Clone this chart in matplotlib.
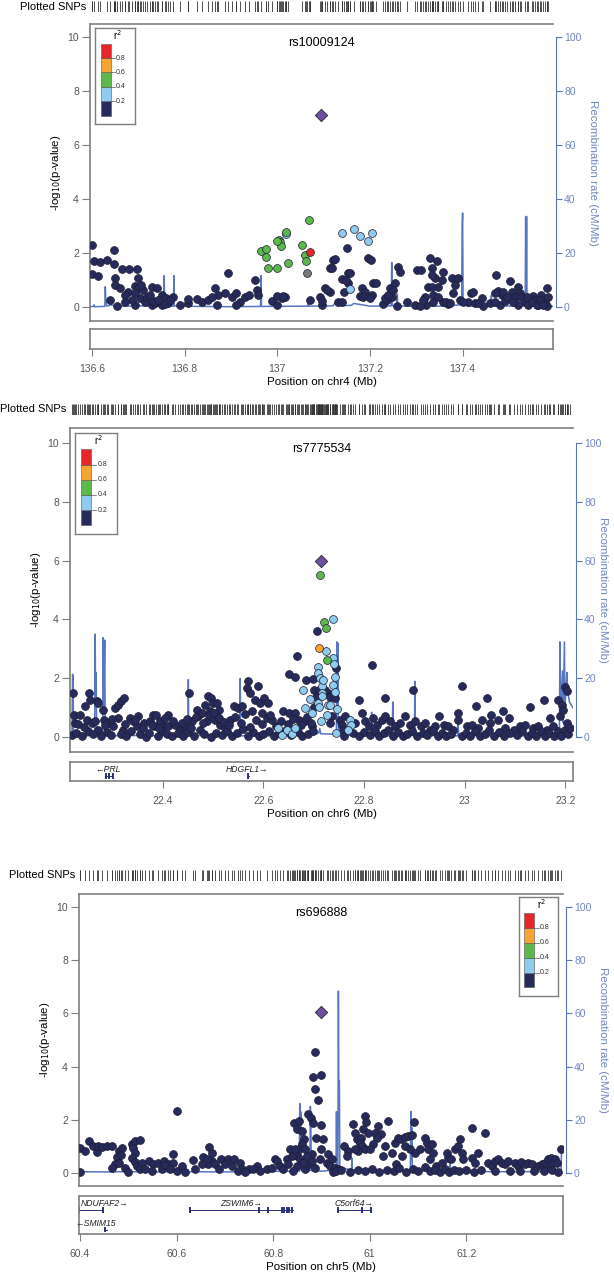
import numpy as np
import matplotlib
matplotlib.use('Agg')
import matplotlib.pyplot as plt
from matplotlib.patches import Rectangle
from matplotlib.ticker import FuncFormatter

plt.rcParams['font.family'] = ['Liberation Sans', 'DejaVu Sans']

# ---------------- data ----------------
ld_labels = ['0.2', '0.4', '0.6', '0.8']

# panel 1 : rs10009124, chr4
p1_navy = [
    (136.600, 2.31), (136.605, 1.72), (136.617, 1.69), (136.632, 1.75), (136.648, 2.12), (136.648, 1.60),
    (136.600, 1.23), (136.613, 1.18), (136.651, 1.10), (136.666, 1.41), (136.680, 1.41), (136.697, 1.41),
    (136.700, 1.08), (136.650, 0.83), (136.661, 0.71), (136.679, 0.59), (136.693, 0.80), (136.700, 0.71),
    (136.711, 0.65), (136.729, 0.77), (136.740, 0.71), (136.751, 0.47), (136.761, 0.34), (136.776, 0.40),
    (136.790, 0.10), (136.654, 0.04), (136.639, 0.28), (136.693, 0.10), (136.704, 0.34), (136.715, 0.22),
    (136.729, 0.10), (136.736, 0.16), (136.751, 0.10), (136.765, 0.16), (136.808, 0.16), (136.826, 0.32),
    (136.837, 0.22), (136.851, 0.28), (136.866, 0.71), (136.873, 0.47), (136.887, 0.53), (136.902, 0.40),
    (136.912, 0.53), (136.920, 0.22), (136.894, 1.26), (136.952, 1.02), (136.956, 0.65), (136.959, 0.47),
    (136.988, 0.25), (136.999, 0.10), (137.010, 0.34), (137.017, 0.40), (137.071, 0.28), (137.096, 0.10),
    (137.092, 0.40), (137.103, 0.71), (137.114, 0.59), (137.114, 1.45), (137.121, 1.75), (137.132, 0.20),
    (137.139, 1.06), (137.153, 1.26), (137.150, 2.21), (137.143, 0.59), (137.178, 0.44), (137.182, 0.71),
    (137.189, 0.59), (137.196, 1.82), (137.202, 1.75), (137.207, 0.90), (137.204, 0.47), (137.229, 0.12),
    (137.236, 0.28), (137.243, 0.71), (137.247, 0.40), (137.254, 0.90), (137.261, 1.51), (137.265, 1.33),
    (137.258, 0.04), (137.279, 0.22), (137.297, 0.10), (137.301, 1.39), (137.311, 1.39), (137.329, 1.84),
    (137.344, 1.72), (137.333, 1.45), (137.340, 1.08), (137.326, 0.77), (137.347, 0.77), (137.358, 1.33),
    (137.333, 1.20), (137.355, 1.02), (137.319, 0.40), (137.322, 0.10), (137.337, 0.22), (137.358, 0.20),
    (137.369, 0.12), (137.376, 1.08), (137.383, 0.83), (137.391, 1.08), (137.380, 0.53), (137.394, 0.28),
    (137.412, 0.22), (137.419, 0.53), (137.423, 0.59), (137.441, 0.34), (137.444, 0.04), (137.426, 0.16),
    (137.459, 0.16), (137.473, 1.20), (137.477, 0.61), (137.484, 0.47), (137.480, 0.10), (137.491, 0.25),
    (137.502, 0.98), (137.506, 0.59), (137.513, 0.40), (137.520, 0.77), (137.524, 0.53), (137.520, 0.10),
    (137.534, 0.22), (137.541, 0.10), (137.552, 0.44), (137.556, 0.28), (137.563, 0.10), (137.570, 0.47),
    (137.577, 0.22), (137.581, 0.71), (137.583, 0.04), (136.671, 0.47), (136.686, 0.28), (136.718, 0.40),
    (136.733, 0.25), (136.743, 0.28), (136.758, 0.12), (136.769, 0.28), (136.693, 0.53), (136.726, 0.47),
    (136.707, 0.83), (136.671, 0.22), (136.808, 0.32), (136.859, 0.40), (136.869, 0.10), (136.912, 0.10),
    (136.930, 0.40), (136.938, 0.47), (136.999, 0.44), (137.013, 0.44), (137.096, 0.25), (137.107, 0.65),
    (137.139, 0.22), (137.153, 0.90), (137.186, 0.40), (137.200, 0.37), (137.232, 0.34), (137.240, 0.47),
    (137.250, 0.65), (137.308, 0.04), (137.315, 0.28), (137.333, 0.77), (137.337, 0.47), (137.347, 0.40),
    (137.365, 0.22), (137.373, 0.16), (137.401, 0.22), (137.434, 0.16), (137.470, 0.53), (137.470, 0.22),
    (137.488, 0.59), (137.495, 0.40), (137.509, 0.22), (137.527, 0.40), (137.538, 0.40), (137.549, 0.22),
    (137.560, 0.10), (137.567, 0.28), (137.574, 0.10), (137.585, 0.40), (137.124, 1.78), (137.118, 1.45),
    (137.158, 1.26), (137.148, 1.02), (137.213, 0.90),
]
p1_gray = [(137.064, 1.29)]
p1_lblue = [(137.019, 2.71), (137.139, 2.77), (137.166, 2.92), (137.179, 2.64), (137.196, 2.45),
            (137.205, 2.77), (137.156, 0.67)]
p1_green = [(136.965, 2.10), (136.975, 2.18), (136.975, 1.88), (136.980, 1.45), (136.999, 1.48),
            (137.003, 2.49), (137.007, 2.43), (137.009, 2.27), (137.018, 2.80), (137.024, 1.63),
            (137.053, 2.33), (137.060, 1.96), (137.063, 1.72), (137.068, 3.23), (137.000, 2.45)]
p1_orange = []
p1_red = [(137.071, 2.05)]
p1_index = (137.094, 7.13)
p1_recomb = [
    (136.596, 0.3), (136.604, 0.4), (136.605, 1.0), (136.606, 0.3), (136.628, 0.4), (136.629, 7.7),
    (136.630, 3.0), (136.632, 0.5), (136.640, 1.0), (136.648, 0.8), (136.660, 1.2), (136.665, 0.5),
    (136.700, 0.6), (136.755, 0.5), (136.756, 11.8), (136.757, 0.6), (136.776, 0.5), (136.777, 11.8),
    (136.778, 0.6), (136.830, 0.4), (136.900, 0.3), (136.964, 0.4), (136.965, 11.8), (136.966, 0.4),
    (137.066, 0.5), (137.067, 2.5), (137.068, 0.5), (137.120, 0.6), (137.125, 1.8), (137.130, 0.6),
    (137.160, 0.8), (137.165, 1.5), (137.200, 0.5), (137.246, 0.6), (137.247, 16.7), (137.248, 0.7),
    (137.258, 0.6), (137.259, 5.0), (137.260, 0.6), (137.300, 0.4), (137.350, 0.5), (137.398, 1.0),
    (137.399, 30.0), (137.400, 35.0), (137.401, 2.0), (137.405, 1.5), (137.410, 0.5), (137.461, 0.5),
    (137.462, 4.5), (137.463, 0.5), (137.535, 0.6), (137.536, 33.7), (137.537, 5.0), (137.538, 33.7),
    (137.539, 0.6), (137.595, 0.4),
]

# panel 2 : rs7775534, chr6
p2_navy = [
    (22.221, 1.49), (22.223, 0.77), (22.226, 0.49), (22.219, 0.09), (22.236, 0.77), (22.246, 1.06),
    (22.253, 1.51), (22.256, 1.28), (22.249, 0.60), (22.259, 0.49), (22.269, 1.23), (22.272, 1.17),
    (22.282, 0.92), (22.284, 0.60), (22.272, 0.26), (22.292, 0.49), (22.306, 1.00), (22.311, 1.11),
    (22.317, 1.23), (22.324, 1.34), (22.312, 0.66), (22.302, 0.37), (22.322, 0.26), (22.335, 0.66),
    (22.342, 0.55), (22.352, 0.72), (22.349, 0.37), (22.362, 0.49), (22.375, 0.55), (22.380, 0.77),
    (22.386, 0.77), (22.382, 0.37), (22.395, 0.55), (22.402, 0.37), (22.411, 0.74), (22.411, 0.37),
    (22.425, 0.43), (22.435, 0.26), (22.445, 0.37), (22.452, 1.51), (22.458, 0.55), (22.468, 0.94),
    (22.471, 0.72), (22.478, 0.83), (22.484, 1.11), (22.490, 1.40), (22.497, 1.34), (22.501, 1.17),
    (22.507, 1.17), (22.511, 0.94), (22.494, 0.89), (22.488, 0.55), (22.504, 0.60), (22.514, 0.43),
    (22.524, 0.32), (22.534, 0.60), (22.541, 1.06), (22.550, 1.00), (22.557, 1.06), (22.567, 1.68),
    (22.569, 1.91), (22.574, 1.51), (22.589, 1.74), (22.584, 1.28), (22.593, 1.17), (22.602, 1.34),
    (22.610, 1.17), (22.577, 0.89), (22.597, 0.83), (22.607, 0.66), (22.617, 0.60), (22.640, 0.89),
    (22.650, 0.83), (22.663, 0.83), (22.670, 0.60), (22.683, 0.55), (22.696, 0.37), (22.666, 2.76),
    (22.651, 2.14), (22.662, 2.06), (22.684, 1.94), (22.699, 1.99), (22.701, 1.60), (22.704, 1.37),
    (22.701, 1.03), (22.706, 3.61),
    (22.228, 0.15), (22.240, 0.05), (22.252, 0.20), (22.262, 0.10), (22.278, 0.03), (22.290, 0.18),
    (22.298, 0.08), (22.318, 0.12), (22.328, 0.04), (22.338, 0.22), (22.356, 0.10), (22.366, 0.02),
    (22.372, 0.16), (22.390, 0.06), (22.398, 0.20), (22.408, 0.12), (22.418, 0.03), (22.430, 0.14),
    (22.440, 0.06), (22.450, 0.18), (22.462, 0.04), (22.474, 0.25), (22.482, 0.10), (22.496, 0.02),
    (22.506, 0.16), (22.518, 0.08), (22.528, 0.20), (22.538, 0.05), (22.548, 0.14), (22.560, 0.28),
    (22.570, 0.06), (22.580, 0.18), (22.592, 0.03), (22.600, 0.12), (22.612, 0.22), (22.622, 0.05),
    (22.632, 0.15), (22.645, 0.25), (22.655, 0.08), (22.668, 0.18), (22.676, 0.04), (22.688, 0.12),
    (22.698, 0.22),
    (22.232, 0.45), (22.244, 0.35), (22.266, 0.55), (22.286, 0.40), (22.300, 0.62), (22.326, 0.45),
    (22.346, 0.58), (22.360, 0.30), (22.378, 0.42), (22.392, 0.32), (22.405, 0.65), (22.420, 0.55),
    (22.438, 0.48), (22.448, 0.62), (22.456, 0.30), (22.466, 0.70), (22.480, 0.50), (22.492, 0.75),
    (22.502, 0.82), (22.512, 0.66), (22.522, 0.52), (22.532, 0.40), (22.544, 0.70), (22.556, 0.48),
    (22.564, 0.78), (22.574, 0.35), (22.586, 0.60), (22.598, 0.45), (22.614, 0.75), (22.626, 0.38),
    (22.636, 0.55), (22.648, 0.45), (22.658, 0.62), (22.674, 0.40), (22.686, 0.70), (22.694, 0.50),
    (22.744, 2.36), (22.711, 1.62), (22.729, 1.51), (22.733, 1.37), (22.722, 1.62), (22.742, 1.34),
    (22.736, 0.72), (22.752, 0.60), (22.762, 0.72), (22.756, 0.43), (22.733, 0.49), (22.759, 0.26),
    (22.782, 0.49), (22.795, 0.81), (22.789, 1.25), (22.802, 0.55), (22.809, 0.37), (22.816, 2.45),
    (22.818, 0.66), (22.825, 0.43), (22.835, 0.60), (22.842, 0.72), (22.842, 1.33), (22.852, 0.55),
    (22.862, 0.37), (22.871, 0.49), (22.881, 0.72), (22.891, 0.43), (22.897, 1.60), (22.901, 0.55),
    (22.913, 0.37), (22.921, 0.49), (22.931, 0.26), (22.941, 0.37), (22.949, 0.72), (22.958, 0.43),
    (22.967, 0.37), (22.977, 0.26), (22.987, 0.83), (22.987, 0.58), (22.994, 1.74), (23.004, 0.37),
    (23.014, 0.43), (23.022, 1.06), (23.027, 0.32), (23.034, 0.60), (23.044, 1.33), (23.050, 0.49),
    (23.053, 0.77), (23.067, 0.60), (23.075, 0.89), (23.080, 0.32), (23.087, 0.66), (23.097, 0.26),
    (23.110, 0.37), (23.120, 0.43), (23.130, 1.03), (23.136, 0.32), (23.146, 0.37), (23.158, 1.27),
    (23.163, 0.26), (23.170, 0.66), (23.176, 0.37), (23.185, 1.28), (23.189, 0.72), (23.193, 1.11),
    (23.196, 0.94), (23.199, 1.71), (23.203, 1.57), (23.200, 0.26), (23.204, 0.49),
    (22.760, 0.05), (22.778, 0.15), (22.790, 0.03), (22.800, 0.18), (22.812, 0.08), (22.822, 0.20),
    (22.830, 0.04), (22.840, 0.14), (22.848, 0.25), (22.858, 0.06), (22.868, 0.18), (22.878, 0.03),
    (22.886, 0.12), (22.896, 0.22), (22.906, 0.05), (22.918, 0.15), (22.926, 0.08), (22.936, 0.20),
    (22.946, 0.03), (22.954, 0.14), (22.962, 0.06), (22.972, 0.10), (22.994, 0.04), (23.002, 0.15),
    (23.010, 0.06), (23.020, 0.20), (23.030, 0.03), (23.040, 0.12), (23.048, 0.25), (23.058, 0.06),
    (23.068, 0.18), (23.078, 0.03), (23.090, 0.14), (23.104, 0.08), (23.114, 0.20), (23.126, 0.05),
    (23.134, 0.16), (23.142, 0.06), (23.152, 0.22), (23.160, 0.04), (23.168, 0.14), (23.178, 0.06),
    (23.186, 0.20), (23.192, 0.04), (23.206, 0.12), (23.210, 0.30),
]
p2_gray = []
p2_lblue = [
    (22.709, 2.40), (22.708, 2.17), (22.678, 1.60), (22.693, 1.31), (22.683, 1.00), (22.697, 0.83),
    (22.630, 0.32), (22.638, 0.09), (22.646, 0.26), (22.656, 0.12), (22.662, 0.32), (22.713, 2.02),
    (22.716, 1.74), (22.709, 1.17), (22.716, 1.49), (22.739, 4.01), (22.724, 2.93), (22.739, 2.70),
    (22.741, 2.48), (22.719, 1.94), (22.742, 2.06), (22.739, 1.76), (22.711, 1.02), (22.729, 1.08),
    (22.746, 0.97), (22.772, 0.60), (22.774, 0.43), (22.769, 0.26), (22.744, 0.15), (22.742, 1.53),
    (22.716, 1.40), (22.733, 1.11), (22.726, 0.77), (22.715, 0.55),
]
p2_green = [(22.712, 5.50), (22.721, 3.90), (22.724, 3.72), (22.726, 2.61)]
p2_orange = [(22.711, 3.04)]
p2_red = []
p2_index = (22.714, 6.00)
p2_recomb = [
    (22.216, 0.5), (22.220, 0.6), (22.221, 21.4), (22.222, 21.0), (22.223, 1.5), (22.228, 1.0),
    (22.235, 2.0), (22.240, 0.5), (22.265, 0.5), (22.266, 35.0), (22.267, 10.0), (22.268, 22.0),
    (22.269, 0.8), (22.281, 0.8), (22.282, 33.8), (22.283, 10.0), (22.285, 33.0), (22.286, 0.8),
    (22.300, 0.5), (22.350, 0.6), (22.400, 0.5), (22.450, 0.6), (22.451, 19.6), (22.452, 0.6),
    (22.500, 0.5), (22.553, 0.5), (22.554, 19.9), (22.555, 0.5), (22.600, 0.4), (22.650, 0.5),
    (22.700, 0.8), (22.710, 1.5), (22.712, 3.0), (22.714, 1.2), (22.745, 1.0), (22.746, 32.4),
    (22.747, 10.0), (22.748, 32.0), (22.749, 1.0), (22.780, 0.5), (22.814, 0.5), (22.815, 8.5),
    (22.816, 0.5), (22.856, 0.5), (22.857, 12.0), (22.858, 0.5), (22.900, 0.6), (22.901, 19.0),
    (22.902, 0.6), (22.950, 0.5), (22.986, 0.5), (22.987, 5.0), (22.988, 0.5), (23.050, 0.5),
    (23.100, 0.4), (23.150, 0.5), (23.188, 0.6), (23.189, 32.4), (23.190, 8.0), (23.194, 22.5),
    (23.195, 5.0), (23.198, 32.4), (23.199, 10.0), (23.203, 22.0), (23.204, 16.0), (23.208, 12.0),
    (23.215, 10.0),
]

# panel 3 : rs696888, chr5
p3_navy = [
    (60.400, 0.94), (60.400, 0.03), (60.410, 0.82), (60.418, 1.19), (60.428, 1.00), (60.435, 0.78),
    (60.437, 1.00), (60.445, 0.97), (60.455, 1.00), (60.467, 1.00), (60.480, 0.82), (60.476, 0.59),
    (60.473, 0.31), (60.466, 0.19), (60.487, 0.94), (60.485, 0.65), (60.507, 1.09), (60.513, 1.19),
    (60.524, 1.23), (60.509, 0.94), (60.513, 0.75), (60.507, 0.57), (60.514, 0.40), (60.518, 0.25),
    (60.524, 0.13), (60.542, 0.44), (60.552, 0.31), (60.562, 0.38), (60.573, 0.44), (60.583, 0.31),
    (60.593, 0.69), (60.593, 0.38), (60.600, 0.06), (60.611, 0.25), (60.600, 2.33), (60.635, 0.48),
    (60.655, 0.60), (60.667, 0.98), (60.673, 0.73), (60.674, 0.44), (60.666, 0.31), (60.693, 0.53),
    (60.707, 0.53), (60.719, 0.53), (60.731, 0.38), (60.735, 0.15), (60.749, 0.13), (60.766, 0.25),
    (60.787, 0.13), (60.804, 0.53), (60.807, 0.44), (60.828, 0.50), (60.835, 0.88), (60.844, 1.89),
    (60.849, 1.64), (60.853, 1.95), (60.859, 1.57), (60.864, 1.26), (60.849, 0.63), (60.859, 1.07),
    (60.853, 0.88), (60.866, 0.88), (60.873, 2.20), (60.878, 2.08), (60.883, 1.89), (60.886, 4.53),
    (60.882, 3.62), (60.898, 3.67), (60.887, 3.17), (60.893, 2.73), (60.900, 1.80), (60.888, 1.32),
    (60.880, 0.69), (60.873, 0.31), (60.866, 0.13), (60.849, 0.25), (60.842, 0.06),
    (60.480, 0.38), (60.493, 0.19), (60.500, 0.03), (60.528, 0.38), (60.535, 0.13), (60.549, 0.06),
    (60.569, 0.13), (60.576, 0.28), (60.587, 0.13), (60.618, 0.03), (60.638, 0.13), (60.652, 0.31),
    (60.662, 0.50), (60.680, 0.31), (60.687, 0.13), (60.700, 0.31), (60.714, 0.25), (60.728, 0.06),
    (60.742, 0.03), (60.759, 0.13), (60.773, 0.06), (60.797, 0.19), (60.814, 0.25), (60.821, 0.13),
    (60.831, 0.31), (60.838, 0.63), (60.845, 0.88), (60.855, 0.50), (60.862, 0.38), (60.869, 0.63),
    (60.880, 0.44), (60.887, 0.19), (60.897, 0.50), (60.900, 0.88), (60.904, 1.26),
    (60.914, 0.69), (60.921, 0.50), (60.911, 0.38), (60.917, 0.25), (60.928, 0.19), (60.935, 0.13),
    (60.924, 0.03), (60.947, 1.00), (60.955, 0.82), (60.952, 0.63), (60.966, 1.82), (60.973, 1.26),
    (60.969, 1.48), (60.982, 1.32), (60.990, 2.14), (60.993, 1.91), (60.986, 1.64), (60.997, 1.51),
    (60.980, 1.13), (60.984, 1.00), (60.990, 0.88), (60.976, 0.82), (60.969, 0.88), (61.011, 1.51),
    (61.018, 1.76), (61.024, 1.45), (61.014, 1.32), (61.007, 1.07), (61.000, 0.88), (61.031, 1.00),
    (61.038, 1.95), (61.028, 0.63), (61.045, 0.75), (61.052, 1.13), (61.059, 1.32), (61.064, 1.26),
    (61.073, 1.36), (61.080, 1.38), (61.087, 1.41), (61.092, 1.91), (61.073, 1.00), (61.083, 0.88),
    (61.066, 0.63), (61.055, 0.31), (61.093, 0.75), (61.104, 0.88), (61.114, 1.32), (61.118, 1.13),
    (61.121, 0.88), (61.128, 1.07), (61.131, 0.75), (61.124, 0.50), (61.138, 0.25), (61.149, 0.38),
    (61.159, 0.75), (61.162, 0.57), (61.169, 0.50), (61.176, 0.88), (61.183, 1.00), (61.187, 1.26),
    (61.190, 0.75), (61.193, 0.50), (61.211, 1.70), (61.225, 0.75), (61.211, 0.57), (61.218, 0.38),
    (61.238, 1.51), (61.245, 0.38), (61.252, 0.25), (61.259, 0.44), (61.266, 0.50), (61.273, 0.38),
    (61.280, 0.31), (61.287, 0.44), (61.300, 0.38), (61.307, 0.25), (61.314, 0.40), (61.321, 0.31),
    (61.328, 0.38), (61.335, 0.31), (61.349, 0.25), (61.356, 0.31), (61.363, 0.38), (61.369, 0.50),
    (61.373, 0.25), (61.376, 0.57), (61.383, 0.50), (61.387, 0.38), (61.395, 0.88),
    (60.930, 0.05), (60.940, 0.12), (60.960, 0.03), (60.975, 0.10), (60.990, 0.05), (61.005, 0.15),
    (61.020, 0.04), (61.035, 0.12), (61.050, 0.06), (61.060, 0.18), (61.075, 0.03), (61.090, 0.14),
    (61.100, 0.05), (61.115, 0.20), (61.125, 0.06), (61.135, 0.12), (61.145, 0.04), (61.155, 0.15),
    (61.165, 0.03), (61.175, 0.10), (61.185, 0.05), (61.200, 0.12), (61.215, 0.04), (61.230, 0.10),
    (61.260, 0.06), (61.290, 0.08), (61.310, 0.05), (61.340, 0.08), (61.360, 0.05), (61.378, 0.10),
    (61.390, 0.04),
]
p3_gray = []
p3_lblue = []
p3_green = []
p3_orange = []
p3_red = []
p3_index = (60.898, 6.05)
p3_recomb = [
    (60.398, 0.4), (60.450, 0.3), (60.500, 0.4), (60.550, 0.3), (60.600, 0.4), (60.700, 0.3),
    (60.800, 0.5), (60.854, 0.6), (60.855, 26.1), (60.856, 10.0), (60.857, 23.0), (60.858, 0.8),
    (60.876, 0.8), (60.877, 25.0), (60.878, 18.0), (60.879, 0.8), (60.900, 0.6), (60.930, 1.0),
    (60.931, 23.0), (60.932, 1.0), (60.934, 1.0), (60.935, 68.4), (60.936, 30.0), (60.937, 34.5),
    (60.938, 2.0), (60.950, 1.5), (60.962, 1.0), (60.963, 5.5), (60.964, 1.0), (60.990, 1.2),
    (61.000, 0.8), (61.050, 0.6), (61.084, 0.8), (61.085, 23.1), (61.086, 5.0), (61.087, 17.0),
    (61.088, 0.8), (61.150, 0.5), (61.165, 0.6), (61.166, 4.0), (61.167, 0.6), (61.250, 0.4),
    (61.350, 0.4), (61.396, 0.5), (61.397, 9.4), (61.400, 9.4),
]

# genes: name, start, end, strand, row, label centre, exons
p2_genes = [
    ('PRL', 22.288, 22.301, '-', 0, 22.292, [22.288, 22.294, 22.301]),
    ('HDGFL1', 22.570, 22.572, '+', 0, 22.567, [22.570]),
]
p3_genes = [
    ('NDUFAF2', 60.398, 60.448, '+', 0, 60.451, [60.398, 60.448]),
    ('SMIM15', 60.451, 60.455, '-', 1, 60.432, [60.452]),
    ('ZSWIM6', 60.628, 60.841, '+', 0, 60.733, [60.628, 60.770, 60.790, 60.818, 60.823, 60.828, 60.833, 60.838]),
    ('C5orf64', 60.934, 61.003, '+', 0, 60.967, [60.935, 60.983, 61.002]),
]

# ---------------- style ----------------
W, H = 614, 1274
navy = '#272b5c'
lblue = '#8ecbee'
green = '#5cb84a'
orange = '#f7a435'
red = '#e6262b'
gray = '#7a7a7a'
purple = '#6c4f9e'
rec_col = '#5875c2'
rec_lab = '#7186c6'
spine_col = '#7f7f7f'
tick_lab = '#555555'
gene_col = '#27307a'
ld_colors = [navy, lblue, green, orange, red]


def px_rect(x0, y0, x1, y1):
    return [x0 / W, 1 - y1 / H, (x1 - x0) / W, (y1 - y0) / H]


fig = plt.figure(figsize=(W / 100, H / 100), dpi=100)


def draw_panel(box, gbox, rug, lbox, xlim, xticks, chrom, title,
               navy_p, gray_p, lblue_p, green_p, orange_p, red_p, index, recomb, genes, rpad):
    x0, y0, x1, y1 = box
    ax = fig.add_axes(px_rect(x0, y0, x1, y1))
    tw = ax.twinx()
    ax.set_zorder(tw.get_zorder() + 1)
    ax.patch.set_visible(False)

    r = np.array(recomb)
    tw.plot(r[:, 0], r[:, 1], color=rec_col, lw=1.1)
    tw.set_ylim(-5, 105)
    tw.set_yticks([0, 20, 40, 60, 80, 100])
    for s in ['left', 'top', 'bottom']:
        tw.spines[s].set_visible(False)
    tw.spines['right'].set_bounds(0, 100)
    tw.spines['right'].set_color(rec_col)
    tw.spines['right'].set_position(('outward', 2))
    tw.tick_params(axis='y', labelcolor=rec_lab, color=rec_col, labelsize=7.5, length=4, width=0.8, pad=2)
    tw.set_ylabel('Recombination rate (cM/Mb)', color=rec_lab, rotation=270, fontsize=8.25, labelpad=rpad)

    all_x = []
    for pts, col in [(navy_p, navy), (gray_p, gray), (lblue_p, lblue), (green_p, green),
                     (orange_p, orange), (red_p, red)]:
        if len(pts) == 0:
            continue
        p = np.array(pts)
        all_x.extend(p[:, 0])
        ax.scatter(p[:, 0], p[:, 1], s=32, c=col, edgecolors='#1c1c30', linewidths=0.5, zorder=3)
    ax.scatter([index[0]], [index[1]], marker='D', s=40, c=purple, edgecolors='#2a2a2a',
               linewidths=0.6, zorder=4)
    all_x.append(index[0])

    ax.set_xlim(xlim)
    tw.set_xlim(xlim)
    ax.set_ylim(-0.5, 10.5)
    ax.set_yticks(range(0, 11, 2))
    ax.set_xticks([])
    ax.spines['right'].set_visible(False)
    for s in ['left', 'top', 'bottom']:
        ax.spines[s].set_color(spine_col)
        ax.spines[s].set_linewidth(1.2)
    ax.tick_params(axis='y', labelcolor=tick_lab, color=spine_col, labelsize=7.5, length=6, width=0.8, pad=2)
    ax.set_ylabel(r'-log$_{10}$(p-value)', fontsize=8.25, labelpad=3)
    ax.text(0.5, 0.935, title, transform=ax.transAxes, ha='center', va='center', fontsize=9)

    # legend box
    lx = fig.add_axes(px_rect(*lbox))
    lx.set_zorder(ax.get_zorder() + 2)
    lx.set_xlim(0, 1)
    lx.set_ylim(0, 1)
    lx.set_xticks([])
    lx.set_yticks([])
    for s in lx.spines.values():
        s.set_color(spine_col)
        s.set_linewidth(1.0)
    seg = 0.15
    for i, col in enumerate(ld_colors):
        lx.add_patch(Rectangle((0.14, 0.087 + i * seg), 0.25, seg, facecolor=col,
                               edgecolor='#555555', lw=0.4))
    for i, lab in enumerate(ld_labels):
        yb = 0.087 + (i + 1) * seg
        lx.plot([0.39, 0.50], [yb, yb], color='#555555', lw=0.5)
        lx.text(0.53, yb, lab, fontsize=5, va='center', ha='left', color='#333333')
    lx.text(0.57, 0.925, r'r$^2$', ha='center', va='center', fontsize=7)

    # gene panel
    g0, g1 = gbox
    gx = fig.add_axes(px_rect(x0, g0, x1, g1))
    gx.set_xlim(xlim)
    gx.set_ylim(g1 - g0, 0)
    gx.set_yticks([])
    gx.set_xticks(xticks)
    gx.xaxis.set_major_formatter(FuncFormatter(lambda v, p: '%g' % v))
    gx.tick_params(axis='x', labelcolor=tick_lab, color=spine_col, labelsize=7.5, length=5, width=0.8, pad=6)
    for s in gx.spines.values():
        s.set_color(spine_col)
        s.set_linewidth(1.2)
    gx.set_xlabel('Position on ' + chrom + ' (Mb)', fontsize=8.25, labelpad=2)
    for name, gs, ge, strand, row, lab_x, exons in genes:
        ly = 7.5 + 19.5 * row
        gy = 14 + 19.5 * row
        gx.plot([gs, ge], [gy, gy], color=gene_col, lw=0.7)
        for e in exons:
            gx.plot([e, e], [gy - 1.6, gy + 1.6], color=gene_col, lw=1.4)
        label = name + '\u2192' if strand == '+' else '\u2190' + name
        gx.text(lab_x, ly, label, fontsize=6.2, style='italic', ha='center', va='center',
                color='#222222')

    # plotted SNPs rug
    r0, r1 = rug
    rx = fig.add_axes(px_rect(x0, r0, x1, r1))
    rx.set_xlim(xlim)
    rx.set_ylim(0, 1)
    rx.axis('off')
    rx.vlines(all_x, 0, 1, color='#333333', lw=0.6)
    fig.text((x0 - 4) / W, 1 - (r0 + r1) / 2 / H, 'Plotted SNPs', ha='right', va='center', fontsize=8)


draw_panel((90, 24, 553, 321), (329, 349), (1, 12), (95, 28, 135, 124),
           (136.596, 137.595), [136.6, 136.8, 137.0, 137.2, 137.4], 'chr4', 'rs10009124',
           p1_navy, p1_gray, p1_lblue, p1_green, p1_orange, p1_red, p1_index, p1_recomb, [], 12)
draw_panel((70, 428, 573, 752), (762, 781), (404, 415), (75, 433, 117, 534),
           (22.216, 23.215), [22.4, 22.6, 22.8, 23.0, 23.2], 'chr6', 'rs7775534',
           p2_navy, p2_gray, p2_lblue, p2_green, p2_orange, p2_red, p2_index, p2_recomb, p2_genes, 5)
draw_panel((79, 894, 563, 1186), (1196, 1234), (870, 881), (519, 897, 558, 996),
           (60.398, 61.4), [60.4, 60.6, 60.8, 61.0, 61.2], 'chr5', 'rs696888',
           p3_navy, p3_gray, p3_lblue, p3_green, p3_orange, p3_red, p3_index, p3_recomb, p3_genes, 12)

fig.savefig('out.png', dpi=100)
